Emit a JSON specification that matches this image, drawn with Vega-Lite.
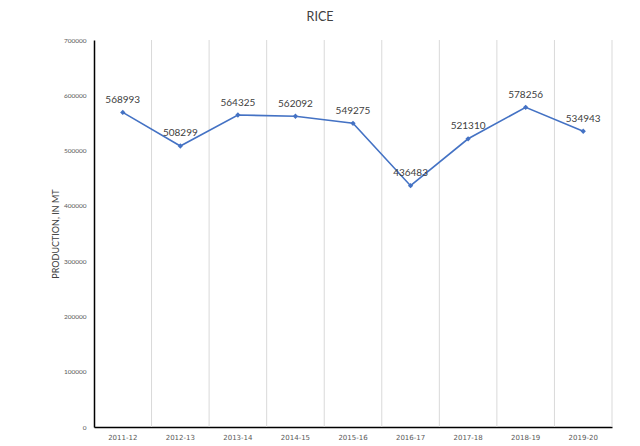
{
  "$schema": "https://vega.github.io/schema/vega-lite/v6.json",
  "width": 518,
  "height": 387,
  "autosize": "none",
  "padding": {"left": 94, "top": 40, "right": 28, "bottom": 19},
  "background": "white",
  "config": {"view": {"stroke": null}, "font": "Lato"},
  "title": {"text": "RICE", "fontSize": 12.5, "fontWeight": "normal", "color": "#404040", "anchor": "middle", "dx": -33, "offset": 14, "font": "Lato"},
  "data": {"values": [
    {"year": "2011-12", "production": 568993},
    {"year": "2012-13", "production": 508299},
    {"year": "2013-14", "production": 564325},
    {"year": "2014-15", "production": 562092},
    {"year": "2015-16", "production": 549275},
    {"year": "2016-17", "production": 436483},
    {"year": "2017-18", "production": 521310},
    {"year": "2018-19", "production": 578256},
    {"year": "2019-20", "production": 534943}
  ]},
  "encoding": {
    "x": {"field": "year", "type": "ordinal", "scale": {"type": "band", "paddingInner": 0, "paddingOuter": 0},
      "axis": {"title": null, "labelAngle": 0, "ticks": false, "grid": false, "domainColor": "#000000", "domainWidth": 1.5, "labelFontSize": 7, "labelColor": "#595959", "labelPadding": 6, "labelFont": "DejaVu Sans"}}
  },
  "layer": [
    {
      "mark": {"type": "rule", "color": "#d9d9d9", "strokeWidth": 1},
      "encoding": {"x": {"field": "year", "type": "ordinal", "bandPosition": 1}}
    },
    {
      "mark": {"type": "line", "color": "#4472C4", "strokeWidth": 1.6},
      "encoding": {
        "x": {"field": "year", "type": "ordinal", "bandPosition": 0.5},
        "y": {"field": "production", "type": "quantitative", "scale": {"domain": [0, 700000]},
          "axis": {"title": "PRODUCTION, IN MT", "titleFontSize": 9, "titleFontWeight": "normal", "titleColor": "#404040", "titleX": -39, "titleBaseline": "middle", "titleFont": "Lato",
            "values": [0, 100000, 200000, 300000, 400000, 500000, 600000, 700000], "format": "d",
            "grid": false, "ticks": false, "domainColor": "#000000", "domainWidth": 1.5, "labelFontSize": 6.5, "labelColor": "#595959", "labelPadding": 8}}
      }
    },
    {
      "mark": {"type": "point", "shape": "diamond", "filled": true, "size": 28, "color": "#4472C4", "opacity": 1},
      "encoding": {
        "x": {"field": "year", "type": "ordinal", "bandPosition": 0.5},
        "y": {"field": "production", "type": "quantitative"}
      }
    },
    {
      "mark": {"type": "text", "dy": -12.5, "fontSize": 10, "color": "#404040", "baseline": "middle"},
      "encoding": {
        "x": {"field": "year", "type": "ordinal", "bandPosition": 0.5},
        "y": {"field": "production", "type": "quantitative"},
        "text": {"field": "production", "type": "quantitative", "format": "d"}
      }
    }
  ]
}
